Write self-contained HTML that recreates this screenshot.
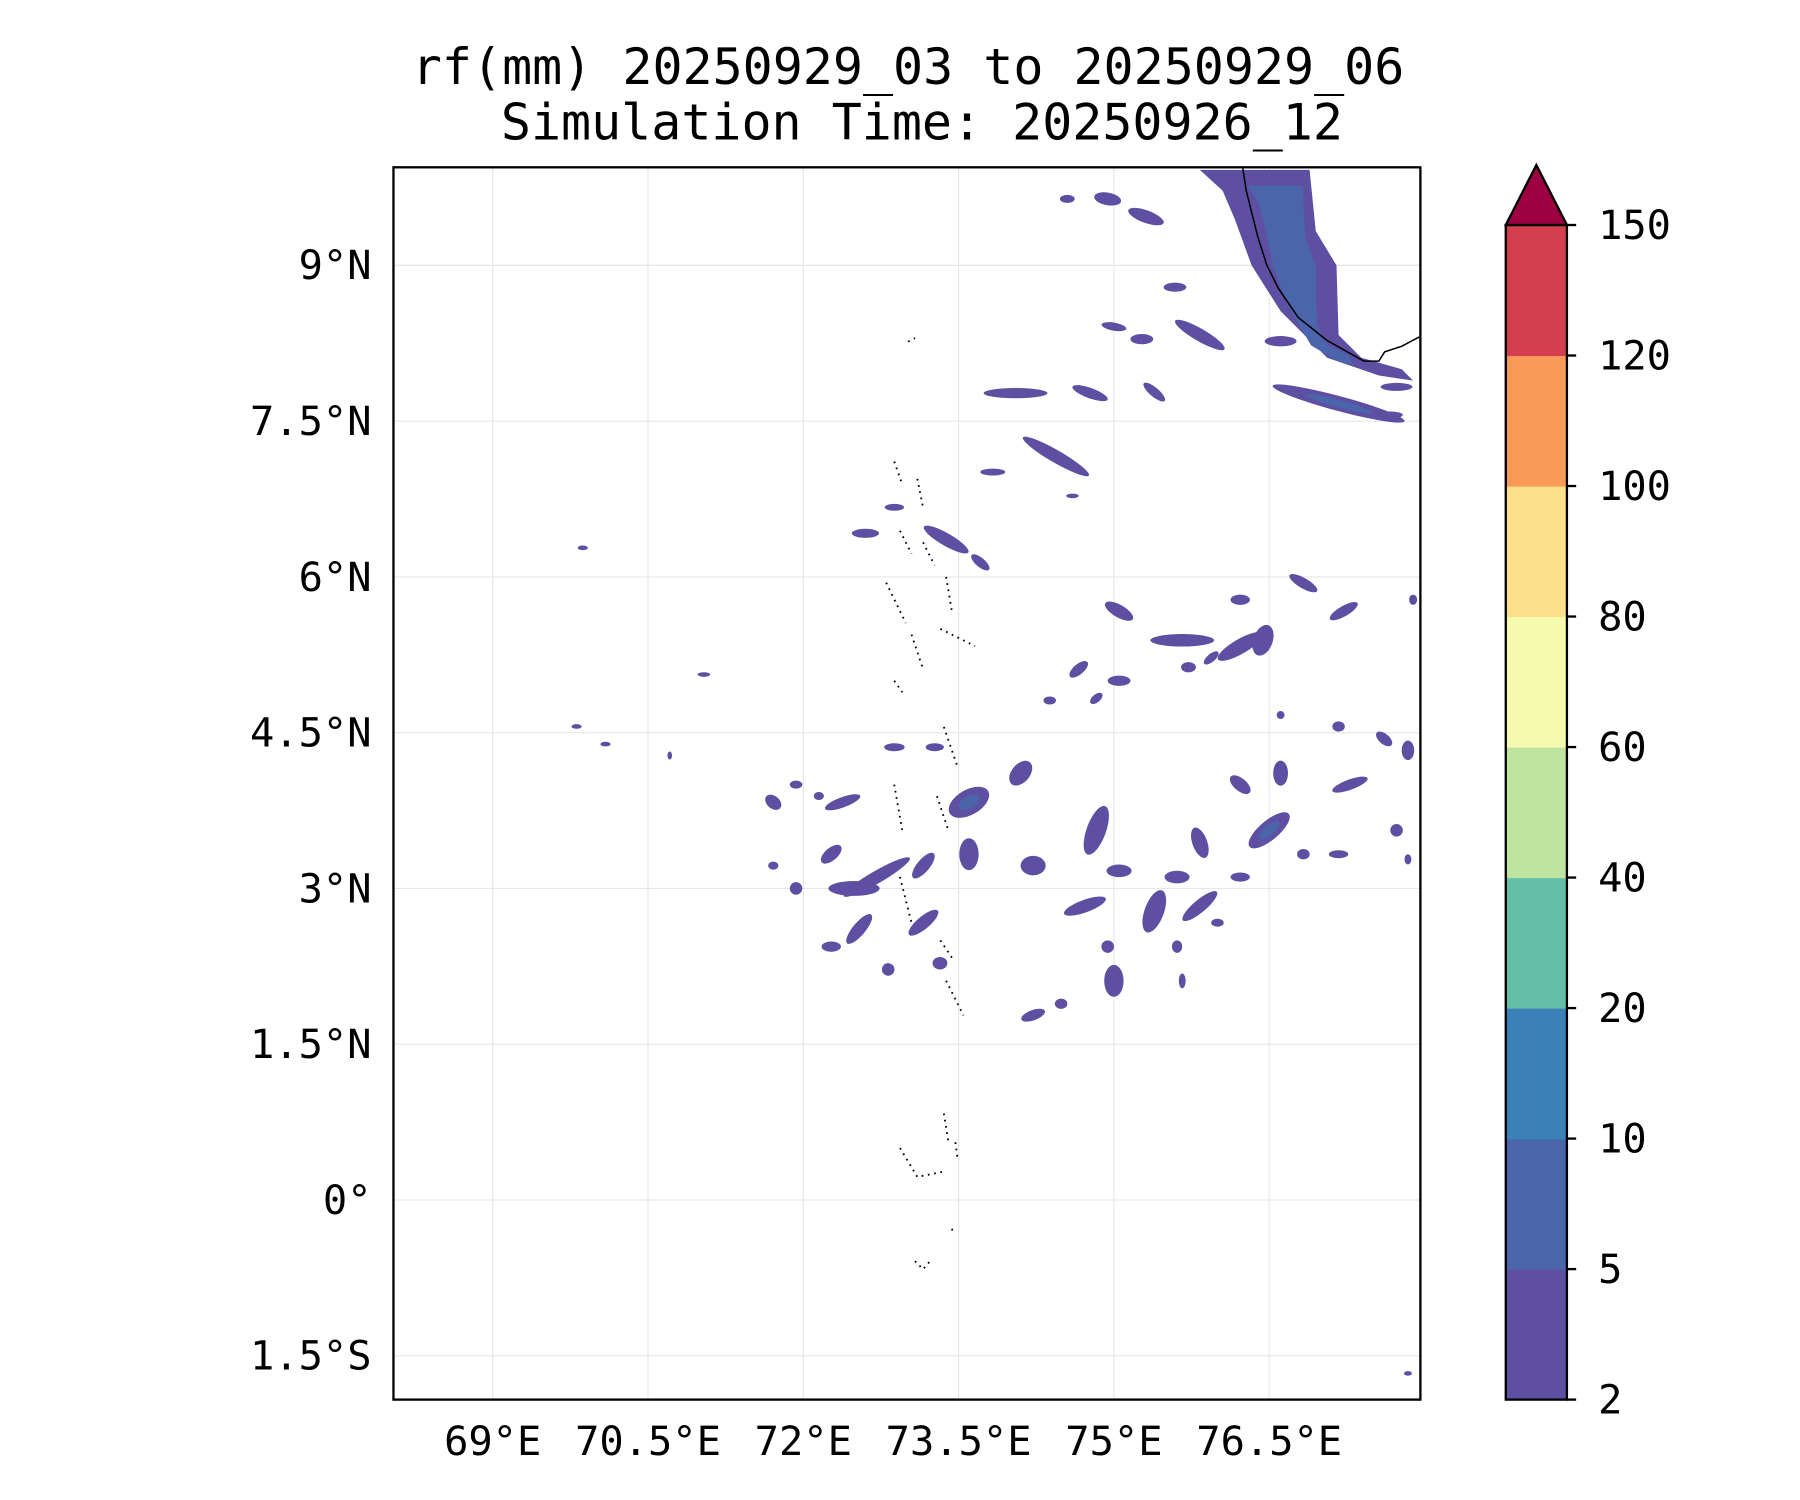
<!DOCTYPE html>
<html><head><meta charset="utf-8"><style>
html,body{margin:0;padding:0;background:#fff}
svg{display:block}
text{font-family:"DejaVu Sans Mono","Liberation Mono",monospace;fill:#000}
</style></head><body>
<svg id="chart" width="1800" height="1500" viewBox="0 0 1560 1300" xmlns="http://www.w3.org/2000/svg">
<text x="787" y="73" font-size="43.3" text-anchor="middle">rf(mm) 20250929_03 to 20250929_06</text>
<text x="799" y="121" font-size="43.3" text-anchor="middle">Simulation Time: 20250926_12</text>
<g id="grid"></g>
<g id="marks"></g>
<path d="M1077,145 L1080,165 L1085,185 L1090,205 L1098,230 L1108,250 L1125,275 L1150,295 L1182,313 L1195,313 L1200,305 L1215,300 L1230,292" fill="none" stroke="#000" stroke-width="1.3"/>
<path d="M775,400 L782,420 M795,415 L800,440 M780,460 L790,480 M800,470 L810,490 M768,505 L785,540 M790,550 L800,580 M820,500 L825,530 M815,545 L845,560 M775,590 L782,600 M818,630 L830,665 M775,680 L782,720 M812,690 L822,720 M780,760 L790,800 M815,815 L825,830 M820,850 L835,880 M780,995 L795,1020 L820,1015 M818,965 L822,990 M828,990 L830,1005 M793,1093 L800,1100 L806,1093 M825,1065 L826,1068 M787,296 L793,293" fill="none" stroke="#000" stroke-width="1.6" stroke-dasharray="1.5,4"/>
<rect x="341" y="145" width="890" height="1068" fill="none" stroke="#000" stroke-width="2"/>
<g id="axes"></g>
<g id="cbar"></g>
</svg>
<script>
const lonTicks=[69,70.5,72,73.5,75,76.5];
const lonLabels=["69°E","70.5°E","72°E","73.5°E","75°E","76.5°E"];
const latTicks=[-1.5,0,1.5,3,4.5,6,7.5,9];
const latLabels=["1.5°S","0°","1.5°N","3°N","4.5°N","6°N","7.5°N","9°N"];
const levels=[2,5,10,20,40,60,80,100,120,150];
const levelColors=["#5e4fa2","#4b65ad","#3a80b9","#64bfa9","#bee5a0","#f4fbad","#fde08b","#f99b58","#d53e4f"];
const extendColor="#9e0142";
// rain cells: lon, lat, half-width (deg), half-height (deg), rotation, level index
const cellLon=[74.94,75.31,74.55,75.59,75.00,75.27,75.83,76.61,74.05,74.77,75.39,77.17,77.73,74.44,73.83,73.38,72.6,73.71,72.88,75.05,75.66,76.22,76.44,76.83,77.22,76.22,74.66,75.05,75.72,75.94,74.83,74.38,74.1,73.6,72.88,73.27,72.38,71.71,72.27,72.71,72.49,73.16,73.6,74.22,74.83,75.05,74.72,75.39,75.61,75.83,75.83,76.5,76.22,76.61,77.28,77.61,77.84,77.17,77.73,76.83,73.16,72.54,72.27,73.32,74.22,75.0,74.94,74.49,76.22,76.0,75.61,75.66,72.82,71.93,71.71,76.61,77.17,71.04,69.81,70.09,70.71,69.87,71.93,72.15,77.84,77.84,77.89,74.6,77.67];
const cellLat=[9.64,9.47,9.64,8.79,8.41,8.29,8.33,8.27,7.77,7.77,7.78,7.67,7.83,7.16,7.01,6.36,6.42,6.14,6.67,5.67,5.39,5.33,5.39,5.94,5.67,5.78,5.11,5.0,5.13,5.22,4.83,4.81,4.11,3.83,4.36,4.36,3.83,3.83,3.33,3.11,3.0,3.22,3.33,3.22,3.56,3.17,2.83,2.78,3.11,2.83,3.44,3.56,4.0,4.11,4.0,4.44,4.33,3.33,3.56,3.33,2.67,2.61,2.44,2.28,1.78,2.11,2.44,1.89,3.11,2.67,2.44,2.11,2.22,3.0,3.22,4.67,4.56,5.06,4.56,4.39,4.28,6.28,4.0,3.89,3.28,-1.67,5.78,6.78,7.56];
const cellRx=[.24,.33,.13,.2,.22,.2,.5,.28,.56,.33,.24,1.2,.28,.67,.22,.45,.24,.2,.17,.28,.56,.45,.17,.28,.28,.17,.2,.2,.13,.16,.13,.11,.25,.39,.18,.16,.33,.16,.22,.67,.45,.28,.17,.22,.17,.22,.39,.17,.22,.39,.13,.45,.22,.13,.33,.17,.11,.17,.11,.11,.33,.33,.17,.13,.22,.17,.11,.11,.17,.11,.09,.06,.11,.11,.09,.07,.11,.11,.09,.09,.04,.09,.11,.09,.06,.07,.07,.11,.22];
const cellRy=[.11,.11,.07,.08,.07,.09,.11,.09,.09,.09,.08,.13,.07,.11,.06,.11,.08,.08,.06,.11,.11,.13,.28,.09,.09,.09,.09,.09,.09,.07,.07,.07,.16,.22,.07,.07,.09,.11,.11,.11,.13,.11,.28,.17,.45,.11,.11,.39,.11,.11,.28,.17,.11,.22,.09,.09,.17,.07,.11,.09,.11,.11,.09,.11,.09,.28,.11,.09,.08,.07,.11,.13,.11,.11,.07,.07,.09,.04,.03,.03,.07,.03,.07,.07,.09,.03,.09,.03,.06];
const cellRot=[10,20,0,0,10,0,30,0,0,20,40,15,0,30,0,30,0,40,0,30,0,-30,20,30,-30,0,-40,0,0,-40,-40,0,-50,-30,0,0,-20,40,-40,-30,0,-50,0,0,20,0,-20,20,0,-40,-20,-40,40,0,-20,40,0,0,0,0,-40,-50,0,0,-20,0,0,0,0,0,0,0,0,0,0,0,0,0,0,0,0,0,0,0,0,0,0,0,0];
const cellLevel=[0,0,0,0,0,0,0,0,0,0,0,1,0,0,0,0,0,0,0,0,0,0,0,0,0,0,0,0,0,0,0,0,0,1,0,0,0,0,0,0,0,0,0,0,0,0,0,0,0,0,0,1,0,0,0,0,0,0,0,0,0,0,0,0,0,0,0,0,0,0,0,0,0,0,0,0,0,0,0,0,0,0,0,0,0,0,0,0,0];
// coastal rain band (Kerala) polygon
const bandLon=[75.83,76.89,76.95,77.15,77.17,77.39,77.78,77.89,77.56,77.06,76.61,76.33,76.17,76.05];
const bandLat=[9.92,9.92,9.33,9.0,8.33,8.11,8.0,7.89,7.94,8.11,8.56,9.0,9.44,9.72];

const NS="http://www.w3.org/2000/svg";
const X0=341,X1=1231,Y0=145,Y1=1213;
const SIZE=0.55;
function xs(lon){return 427+(lon-69)*89.73;}
function ys(lat){return 1040-lat*90;}
function mk(tag,attrs,parent){const e=document.createElementNS(NS,tag);for(const k in attrs)e.setAttribute(k,attrs[k]);parent.appendChild(e);return e;}
const grid=document.getElementById('grid'),axes=document.getElementById('axes'),marks=document.getElementById('marks'),cbar=document.getElementById('cbar');
lonTicks.forEach((v,i)=>{
  const l=mk('line',{x1:xs(v),x2:xs(v),y1:Y0,y2:Y1,stroke:'#e6e6e6','stroke-width':1},grid);
  
  
  const t=mk('text',{x:xs(v),y:1261,'font-size':35,'text-anchor':'middle'},axes);
  t.textContent=lonLabels[i];
  
  
});
latTicks.forEach((v,i)=>{
  const l=mk('line',{x1:X0,x2:X1,y1:ys(v),y2:ys(v),stroke:'#e6e6e6','stroke-width':1},grid);
  
  
  const t=mk('text',{x:322,y:ys(v)+12,'font-size':35,'text-anchor':'end'},axes);
  t.textContent=latLabels[i];
  
  
});
const clip=mk('clipPath',{id:'pc'},mk('defs',{},marks));
mk('rect',{x:X0,y:Y0,width:X1-X0,height:Y1-Y0},clip);
const mg=mk('g',{'clip-path':'url(#pc)'},marks);
const band=mk('polygon',{points:bandLon.map((v,i)=>xs(v)+','+ys(bandLat[i])).join(' '),fill:levelColors[0]},mg);


const bandInner=mk('polygon',{points:bandLon.map((v,i)=>xs(v*0.5+76.75*0.5)+','+ys(bandLat[i]*0.85+8.9*0.15)).join(' '),fill:levelColors[1]},mg);


cellLon.forEach((v,i)=>{
  const cx=xs(v),cy=ys(cellLat[i]);
  const e=mk('ellipse',{cx:cx,cy:cy,rx:Math.max(2,cellRx[i]*89.73*SIZE),ry:Math.max(2,cellRy[i]*90*SIZE),fill:levelColors[0],transform:`rotate(${cellRot[i]} ${cx} ${cy})`},mg);
  
  
  if(cellLevel[i]>0){
    const c=mk('ellipse',{cx:cx,cy:cy,rx:cellRx[i]*89.73*SIZE*0.5,ry:cellRy[i]*90*SIZE*0.5,fill:levelColors[cellLevel[i]],transform:`rotate(${cellRot[i]} ${cx} ${cy})`},mg);
    
    
  }
});
// colorbar
const CB0=1213,CB1=195,CX0=1305,CX1=1358,n=levels.length-1,bh=(CB0-CB1)/n;
for(let i=0;i<n;i++){
  const r=mk('rect',{x:CX0,y:CB0-(i+1)*bh,width:CX1-CX0,height:bh+0.5,fill:levelColors[i]},cbar);
  
  
}
const tri=mk('polygon',{points:`${CX0},${CB1} ${(CX0+CX1)/2},${CB1-52} ${CX1},${CB1}`,fill:extendColor,stroke:'#000','stroke-width':2},cbar);


const fr=mk('rect',{x:CX0,y:CB1,width:CX1-CX0,height:CB0-CB1,fill:'none',stroke:'#000','stroke-width':2},cbar);


levels.forEach((v,i)=>{
  const y=CB0-i*bh;
  mk('line',{x1:CX1,x2:CX1+8,y1:y,y2:y,stroke:'#000','stroke-width':2},cbar);
  const t=mk('text',{x:1385,y:y+12,'font-size':35},cbar);
  t.textContent=v;
  
  
});
</script>
</body></html>
